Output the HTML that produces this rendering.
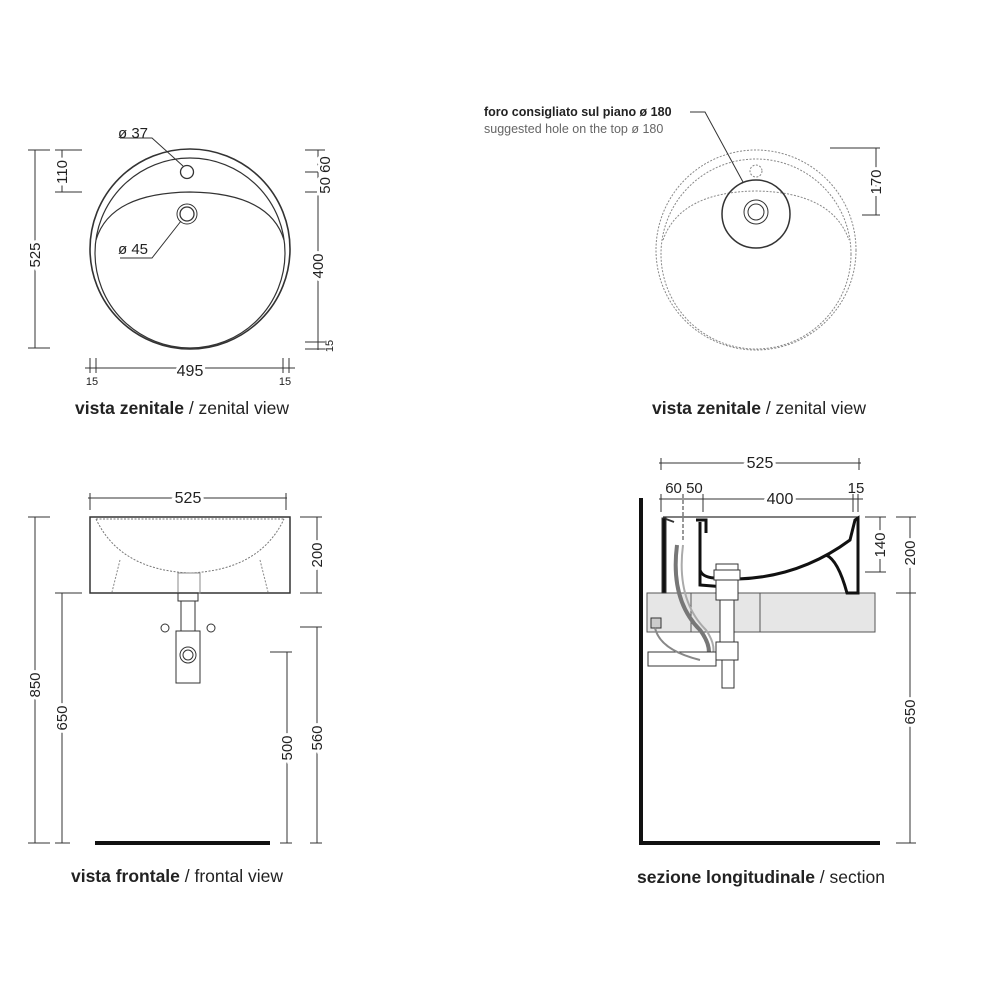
<!DOCTYPE html>
<html><head><meta charset="utf-8"><style>
html,body{margin:0;padding:0;background:#fff}
svg{display:block}
text{font-family:"Liberation Sans",sans-serif;fill:#222}
</style></head><body>
<svg width="1000" height="1000" viewBox="0 0 1000 1000" xmlns="http://www.w3.org/2000/svg">
<g stroke="#333" fill="none" stroke-width="1">
<!-- ===== TOP LEFT ===== -->
<circle cx="190" cy="249" r="100" stroke-width="1.6"/>
<circle cx="190" cy="253" r="95" stroke-width="1.2"/>
<path d="M96 240 Q110 193 190 192 Q270 193 284 240" stroke-width="1.2"/>
<circle cx="187" cy="172" r="6.5" stroke-width="1.3"/>
<circle cx="187" cy="214" r="10"/><circle cx="187" cy="214" r="7" stroke-width="1.3"/>
<polyline points="120,138 152,138 183,166"/>
<polyline points="120,258 152,258 181,221"/>
<line x1="35" y1="150" x2="35" y2="348"/>
<line x1="28" y1="150" x2="50" y2="150"/><line x1="28" y1="348" x2="50" y2="348"/>
<line x1="62" y1="150" x2="62" y2="192"/>
<line x1="55" y1="150" x2="82" y2="150"/><line x1="55" y1="192" x2="82" y2="192"/>
<line x1="318" y1="150" x2="318" y2="350"/>
<line x1="305" y1="150" x2="325" y2="150"/><line x1="305" y1="172" x2="325" y2="172"/>
<line x1="305" y1="192" x2="325" y2="192"/><line x1="305" y1="342" x2="325" y2="342"/>
<line x1="305" y1="349" x2="325" y2="349"/>
<line x1="85" y1="368" x2="295" y2="368"/>
<line x1="90" y1="358" x2="90" y2="373"/><line x1="96" y1="358" x2="96" y2="373"/>
<line x1="283" y1="358" x2="283" y2="373"/><line x1="289" y1="358" x2="289" y2="373"/>

<!-- ===== TOP RIGHT ===== -->
<g stroke="#888" stroke-dasharray="2 1.5">
<circle cx="756" cy="250" r="100"/>
<circle cx="756" cy="254" r="95"/>
<path d="M663 240 Q680 192 756 191 Q832 192 849 240"/>
<circle cx="756" cy="171" r="6"/>
</g>
<circle cx="756" cy="214" r="34" stroke-width="1.5"/>
<circle cx="756" cy="212" r="12"/><circle cx="756" cy="212" r="8"/>
<polyline points="690,112 705,112 743,182"/>
<line x1="876" y1="148" x2="876" y2="215"/>
<line x1="830" y1="148" x2="880" y2="148"/><line x1="862" y1="215" x2="880" y2="215"/>

<!-- ===== FRONT VIEW ===== -->
<rect x="90" y="517" width="200" height="76" stroke-width="1.5"/>
<path d="M96 519 Q120 570 190 573 Q260 570 284 519" stroke="#777" stroke-dasharray="2 1.5"/>
<line x1="96" y1="519" x2="284" y2="519" stroke="#777" stroke-dasharray="2 1.5"/>
<path d="M120 560 L112 592 M260 560 L268 592" stroke="#888" stroke-dasharray="2 1.5"/>
<rect x="178" y="573" width="22" height="20" stroke="#888"/>
<rect x="178" y="593" width="20" height="8"/>
<rect x="181" y="601" width="14" height="30"/>
<rect x="176" y="631" width="24" height="52"/>
<circle cx="188" cy="655" r="8"/><circle cx="188" cy="655" r="5"/>
<circle cx="165" cy="628" r="4"/><circle cx="211" cy="628" r="4"/>
<line x1="88" y1="498" x2="287" y2="498"/>
<line x1="90" y1="493" x2="90" y2="510"/><line x1="286" y1="493" x2="286" y2="510"/>
<line x1="317" y1="517" x2="317" y2="593"/>
<line x1="300" y1="517" x2="322" y2="517"/><line x1="300" y1="593" x2="322" y2="593"/>
<line x1="35" y1="517" x2="35" y2="843"/>
<line x1="28" y1="517" x2="50" y2="517"/><line x1="28" y1="843" x2="50" y2="843"/>
<line x1="62" y1="593" x2="62" y2="843"/>
<line x1="55" y1="593" x2="82" y2="593"/><line x1="55" y1="843" x2="70" y2="843"/>
<line x1="287" y1="652" x2="287" y2="843"/>
<line x1="270" y1="652" x2="292" y2="652"/><line x1="280" y1="843" x2="292" y2="843"/>
<line x1="317" y1="627" x2="317" y2="843"/>
<line x1="300" y1="627" x2="322" y2="627"/><line x1="310" y1="843" x2="322" y2="843"/>
<line x1="95" y1="843" x2="270" y2="843" stroke="#111" stroke-width="4"/>

<!-- ===== SECTION ===== -->
<rect x="647" y="593" width="228" height="39" fill="#e6e6e6" stroke="#555"/>
<line x1="691" y1="593" x2="691" y2="632" stroke="#555"/>
<line x1="760" y1="593" x2="760" y2="632" stroke="#555"/>
<line x1="641" y1="498" x2="641" y2="845" stroke="#111" stroke-width="4"/>
<line x1="641" y1="843" x2="880" y2="843" stroke="#111" stroke-width="4"/>
<line x1="663" y1="517" x2="858" y2="517" stroke-width="1.3"/>
<path d="M662 518 L666 518 L666 593 L662 593 Z" fill="#111"/>
<path d="M666 519 L674 522" stroke-width="2"/>
<path d="M696 520 L706 520 L706 533 M700 522 L700 570 Q702 577 714 578 L738 579 Q800 577 850 540 L855 520 L858 518 L858 593 L847 593 Q838 560 826 555" stroke="#111" stroke-width="3"/>
<path d="M700 570 L700 585 L725 587" stroke="#111" stroke-width="3"/>
<path d="M677 545 Q670 600 700 630 Q715 650 705 665" stroke="#777" stroke-width="4"/>
<path d="M683 545 Q676 600 706 630 Q720 650 708 665" stroke="#aaa" stroke-width="2"/>
<rect x="716" y="564" width="22" height="36" fill="#fff"/>
<rect x="714" y="570" width="26" height="10" fill="#fff"/>
<rect x="720" y="600" width="14" height="55" fill="#fff"/>
<rect x="716" y="642" width="22" height="18" fill="#fff"/>
<rect x="722" y="660" width="12" height="28" fill="#fff"/>
<rect x="648" y="652" width="68" height="14" fill="#fff"/>
<rect x="651" y="618" width="10" height="10" fill="#ccc"/>
<path d="M655 628 Q660 650 700 660" stroke="#888" stroke-width="2"/>
<line x1="659" y1="463" x2="861" y2="463"/>
<line x1="661" y1="458" x2="661" y2="470"/><line x1="859" y1="458" x2="859" y2="470"/>
<line x1="659" y1="499" x2="863" y2="499"/>
<line x1="661" y1="494" x2="661" y2="512"/><line x1="683" y1="494" x2="683" y2="540" stroke-dasharray="4 2"/>
<line x1="703" y1="494" x2="703" y2="512"/><line x1="853" y1="494" x2="853" y2="512"/><line x1="858" y1="494" x2="858" y2="512"/>
<line x1="880" y1="517" x2="880" y2="572"/>
<line x1="865" y1="517" x2="886" y2="517"/><line x1="865" y1="572" x2="886" y2="572"/>
<line x1="910" y1="517" x2="910" y2="843"/>
<line x1="896" y1="517" x2="916" y2="517"/><line x1="896" y1="593" x2="916" y2="593"/>
<line x1="896" y1="843" x2="916" y2="843"/>
</g>

<g font-size="15">
<text x="118" y="138">ø 37</text>
<text x="118" y="254">ø 45</text>
<text x="190" y="376" text-anchor="middle" font-size="16" style="paint-order:stroke" stroke="#fff" stroke-width="6">495</text>
<text x="92" y="385" text-anchor="middle" font-size="11">15</text>
<text x="285" y="385" text-anchor="middle" font-size="11">15</text>
<text transform="translate(40,255) rotate(-90)" text-anchor="middle" style="paint-order:stroke" stroke="#fff" stroke-width="6">525</text>
<text transform="translate(67,172) rotate(-90)" text-anchor="middle" style="paint-order:stroke" stroke="#fff" stroke-width="6">110</text>
<text transform="translate(330,175) rotate(-90)" text-anchor="middle" style="paint-order:stroke" stroke="#fff" stroke-width="6">50 60</text>
<text transform="translate(323,266) rotate(-90)" text-anchor="middle" style="paint-order:stroke" stroke="#fff" stroke-width="6">400</text>
<text transform="translate(333,346) rotate(-90)" text-anchor="middle" font-size="11">15</text>

<text x="484" y="116" font-size="12.5" font-weight="bold">foro consigliato sul piano ø 180</text>
<text x="484" y="133" font-size="12.5" style="fill:#666">suggested hole on the top ø 180</text>
<text transform="translate(881,182) rotate(-90)" text-anchor="middle" style="paint-order:stroke" stroke="#fff" stroke-width="6">170</text>

<text x="188" y="503" text-anchor="middle" font-size="16" style="paint-order:stroke" stroke="#fff" stroke-width="6">525</text>
<text transform="translate(322,555) rotate(-90)" text-anchor="middle" style="paint-order:stroke" stroke="#fff" stroke-width="6">200</text>
<text transform="translate(40,685) rotate(-90)" text-anchor="middle" style="paint-order:stroke" stroke="#fff" stroke-width="6">850</text>
<text transform="translate(67,718) rotate(-90)" text-anchor="middle" style="paint-order:stroke" stroke="#fff" stroke-width="6">650</text>
<text transform="translate(292,748) rotate(-90)" text-anchor="middle" style="paint-order:stroke" stroke="#fff" stroke-width="6">500</text>
<text transform="translate(322,738) rotate(-90)" text-anchor="middle" style="paint-order:stroke" stroke="#fff" stroke-width="6">560</text>

<text x="760" y="468" text-anchor="middle" font-size="16" style="paint-order:stroke" stroke="#fff" stroke-width="6">525</text>
<text x="684" y="493" text-anchor="middle">60 50</text>
<text x="780" y="504" text-anchor="middle" font-size="16" style="paint-order:stroke" stroke="#fff" stroke-width="6">400</text>
<text x="856" y="493" text-anchor="middle">15</text>
<text transform="translate(885,545) rotate(-90)" text-anchor="middle" style="paint-order:stroke" stroke="#fff" stroke-width="6">140</text>
<text transform="translate(915,553) rotate(-90)" text-anchor="middle" style="paint-order:stroke" stroke="#fff" stroke-width="6">200</text>
<text transform="translate(915,712) rotate(-90)" text-anchor="middle" style="paint-order:stroke" stroke="#fff" stroke-width="6">650</text>
</g>

<g font-size="17.5" text-anchor="middle">
<text x="182" y="414"><tspan font-weight="bold">vista zenitale</tspan> / zenital view</text>
<text x="759" y="414"><tspan font-weight="bold">vista zenitale</tspan> / zenital view</text>
<text x="177" y="882"><tspan font-weight="bold">vista frontale</tspan> / frontal view</text>
<text x="761" y="883"><tspan font-weight="bold">sezione longitudinale</tspan> / section</text>
</g>
</svg>
</body></html>
